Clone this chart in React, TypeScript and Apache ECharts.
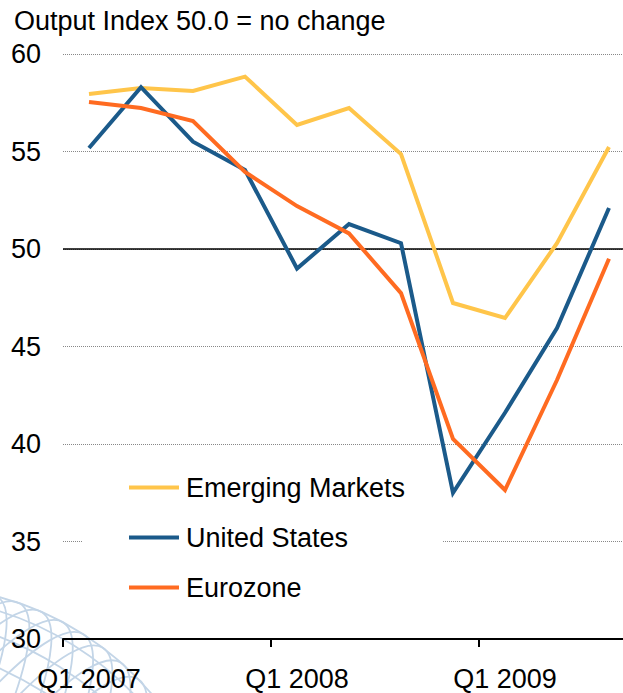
import React, { useEffect, useRef } from "react";
import * as echarts from "echarts";

const quarters = ["Q1 2007", "Q2 2007", "Q3 2007", "Q4 2007", "Q1 2008", "Q2 2008", "Q3 2008", "Q4 2008", "Q1 2009", "Q2 2009", "Q3 2009"];
const emergingMarkets = [57.95, 58.26, 58.1, 58.84, 56.36, 57.23, 54.87, 47.23, 46.46, 50.3, 55.23];
const unitedStates = [55.18, 58.3, 55.5, 54.05, 49.0, 51.28, 50.3, 37.49, 41.6, 45.95, 52.1];
const eurozone = [57.54, 57.23, 56.56, 53.95, 52.2, 50.8, 47.74, 40.26, 37.64, 43.28, 49.5];
const titleText = "Output Index 50.0 = no change";
const noChangeLevel = 50;

const FONT = "'Liberation Sans', Arial, Helvetica, sans-serif";
const FS = 27;

function buildGlobe() {
  const color = "#c3d5e7";
  const R = 300;
  const children: any[] = [];
  [90, 72, 60, 50, 40, 30].forEach((a) => {
    children.push({
      type: "ellipse",
      shape: { cx: 0, cy: 0, rx: R, ry: R * Math.sin((a * Math.PI) / 180) },
      style: { fill: "none", stroke: color, lineWidth: 1.8 },
      silent: true,
    });
  });
  for (let b = -40; b <= 40; b += 4.5) {
    const br = (b * Math.PI) / 180;
    const half = R * Math.cos(br);
    children.push({
      type: "ellipse",
      shape: { cx: R * Math.sin(br), cy: 0, rx: half * 0.22, ry: half },
      style: { fill: "none", stroke: color, lineWidth: 1.8 },
      silent: true,
    });
  }
  return { type: "group", x: -78, y: 887, rotation: -0.56, silent: true, z: -10, children };
}

export default function App() {
  const ref = useRef<HTMLDivElement>(null);
  useEffect(() => {
    if (!ref.current) return;
    const chart = echarts.init(ref.current, null, { renderer: "svg" });
    const lineSeries = (name: string, data: number[], color: string, extra: any = {}) => ({
      name,
      type: "line",
      data,
      symbol: "none",
      lineStyle: { color, width: 4, join: "miter" },
      itemStyle: { color },
      z: 3,
      ...extra,
    });
    chart.setOption({
      animation: false,
      backgroundColor: "#fff",
      textStyle: { fontFamily: FONT },
      title: {
        text: titleText,
        left: 14,
        top: 7,
        padding: 0,
        textStyle: { fontSize: FS, fontWeight: "normal", color: "#000", fontFamily: FONT },
      },
      graphic: { elements: [buildGlobe()] },
      legend: {
        orient: "vertical",
        left: 83,
        top: 464,
        padding: [10, 38, 14, 46],
        backgroundColor: "#fff",
        icon: "rect",
        itemWidth: 50,
        itemHeight: 4,
        itemGap: 23,
        textStyle: { fontSize: FS, color: "#000", fontFamily: FONT, lineHeight: 27, padding: [0, 0, 0, 2] },
        data: ["Emerging Markets", "United States", "Eurozone"],
        z: 1,
      },
      grid: { left: 63, top: 54, right: -12, bottom: 54, outerBoundsMode: "none", containLabel: false },
      xAxis: {
        type: "category",
        data: quarters,
        boundaryGap: true,
        axisLine: { show: true, lineStyle: { color: "#000", width: 2 } },
        axisTick: { show: true, interval: 3, length: 8, lineStyle: { color: "#000", width: 2 } },
        axisLabel: { interval: 3, fontSize: FS, color: "#000", margin: 26, fontFamily: FONT },
        splitLine: { show: false },
      },
      yAxis: {
        type: "value",
        min: 30,
        max: 60,
        interval: 5,
        axisLine: { show: false },
        axisTick: { show: false },
        axisLabel: { fontSize: FS, color: "#000", margin: 22, fontFamily: FONT },
        splitLine: { show: true, lineStyle: { color: "#888", width: 1, type: "dotted" } },
      },
      series: [
        lineSeries("Emerging Markets", emergingMarkets, "#FFC54A", {
          markLine: {
            silent: true,
            symbol: "none",
            label: { show: false },
            lineStyle: { color: "#000", width: 1.5, type: "solid" },
            data: [{ yAxis: noChangeLevel }],
            z: 2,
          },
        }),
        lineSeries("United States", unitedStates, "#1B5A8A"),
        lineSeries("Eurozone", eurozone, "#FF6B21"),
      ],
    });
    return () => chart.dispose();
  }, []);
  return <div ref={ref} style={{ position: "fixed", left: 0, top: 0, width: 623, height: 693 }} />;
}
